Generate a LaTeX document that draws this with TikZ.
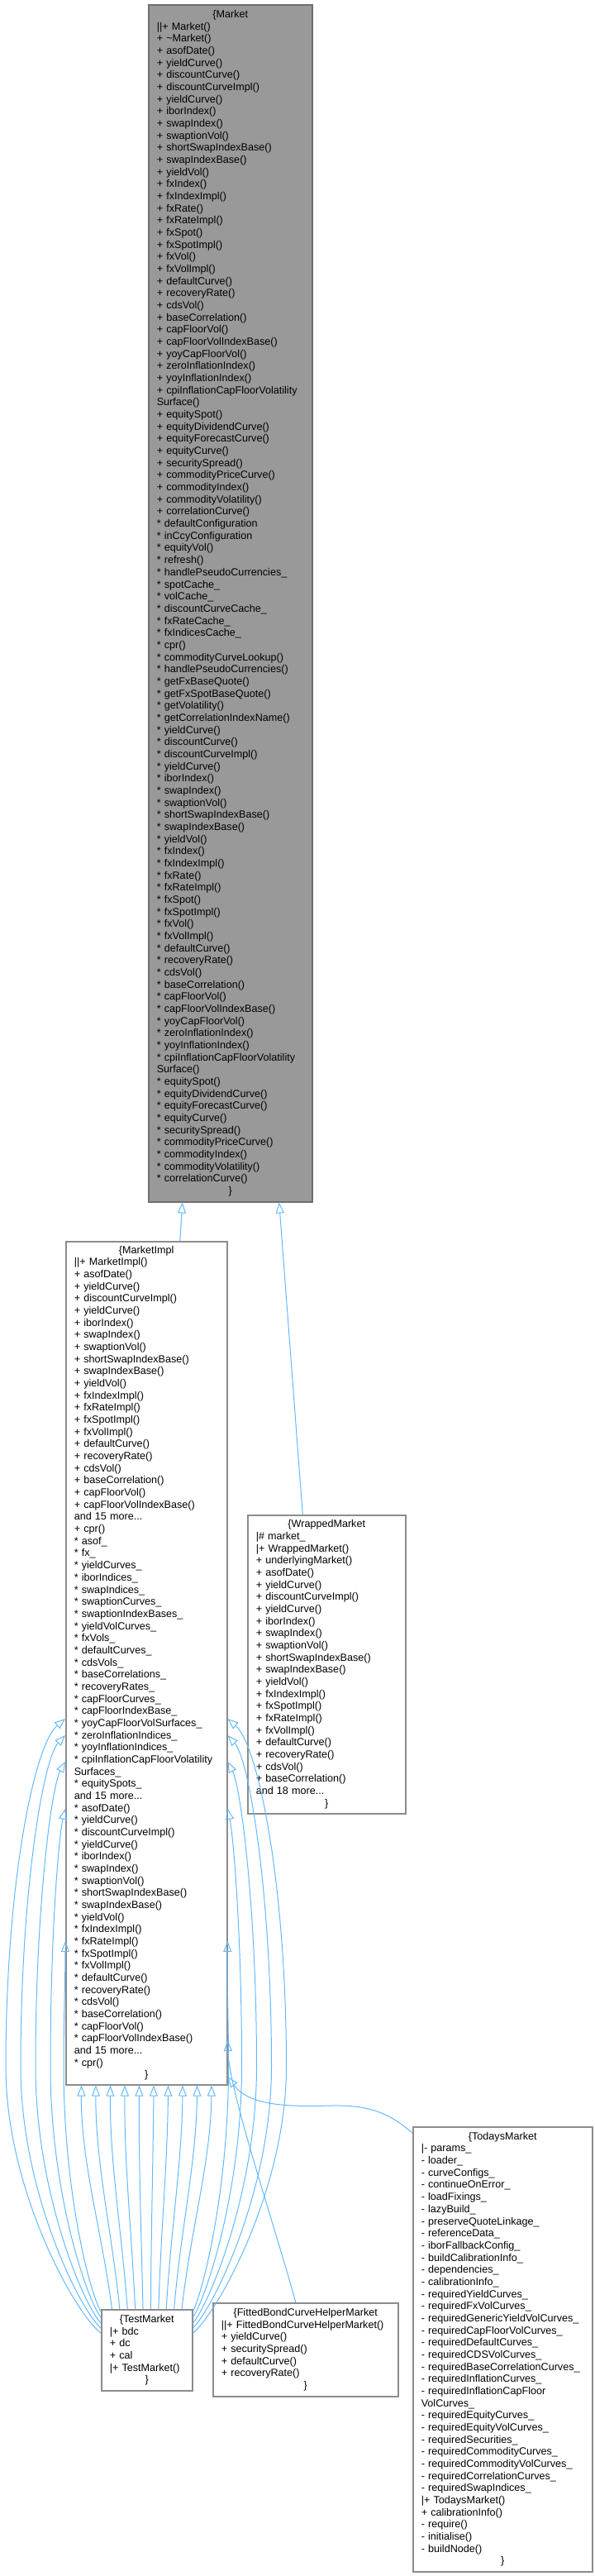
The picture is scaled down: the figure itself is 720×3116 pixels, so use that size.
\documentclass[tikz,border=0pt]{standalone}
\usepackage{fontspec}
\setmainfont{Liberation Sans}
\usetikzlibrary{arrows.meta}
\definecolor{edgeblue}{RGB}{99,184,255}
\definecolor{boxline}{RGB}{140,140,140}
\definecolor{mkline}{RGB}{110,110,110}
\definecolor{mkfill}{RGB}{153,153,153}
\newcommand\ctr[1]{\makebox[\linewidth][c]{#1}}
\newcommand\st{{*}}
\begin{document}
\begin{tikzpicture}[x=1pt,y=-1pt,
  cls/.style={draw=boxline, fill=white, line width=1.5pt, inner xsep=10pt, inner ysep=4pt,
    align=left, anchor=north west, font=\fontsize{12.6pt}{14.67pt}\selectfont},
  basecls/.style={cls, draw=mkline, fill=mkfill},
  inh/.style={draw=edgeblue, line width=1pt, -{Triangle[open,length=13pt,width=10pt]}}]
\useasboundingbox (0,0) rectangle (720,3116);

\node[basecls, text width=178pt, minimum height=1448pt] (market) at (179,5) {%
\ctr{\{Market}\\
||+ Market()\\
+ \textasciitilde Market()\\
+ asofDate()\\
+ yieldCurve()\\
+ discountCurve()\\
+ discountCurveImpl()\\
+ yieldCurve()\\
+ iborIndex()\\
+ swapIndex()\\
+ swaptionVol()\\
+ shortSwapIndexBase()\\
+ swapIndexBase()\\
+ yieldVol()\\
+ fxIndex()\\
+ fxIndexImpl()\\
+ fxRate()\\
+ fxRateImpl()\\
+ fxSpot()\\
+ fxSpotImpl()\\
+ fxVol()\\
+ fxVolImpl()\\
+ defaultCurve()\\
+ recoveryRate()\\
+ cdsVol()\\
+ baseCorrelation()\\
+ capFloorVol()\\
+ capFloorVolIndexBase()\\
+ yoyCapFloorVol()\\
+ zeroInflationIndex()\\
+ yoyInflationIndex()\\
+ cpiInflationCapFloorVolatility\\
Surface()\\
+ equitySpot()\\
+ equityDividendCurve()\\
+ equityForecastCurve()\\
+ equityCurve()\\
+ securitySpread()\\
+ commodityPriceCurve()\\
+ commodityIndex()\\
+ commodityVolatility()\\
+ correlationCurve()\\
\st{} defaultConfiguration\\
\st{} inCcyConfiguration\\
\st{} equityVol()\\
\st{} refresh()\\
\st{} handlePseudoCurrencies\_\\
\st{} spotCache\_\\
\st{} volCache\_\\
\st{} discountCurveCache\_\\
\st{} fxRateCache\_\\
\st{} fxIndicesCache\_\\
\st{} cpr()\\
\st{} commodityCurveLookup()\\
\st{} handlePseudoCurrencies()\\
\st{} getFxBaseQuote()\\
\st{} getFxSpotBaseQuote()\\
\st{} getVolatility()\\
\st{} getCorrelationIndexName()\\
\st{} yieldCurve()\\
\st{} discountCurve()\\
\st{} discountCurveImpl()\\
\st{} yieldCurve()\\
\st{} iborIndex()\\
\st{} swapIndex()\\
\st{} swaptionVol()\\
\st{} shortSwapIndexBase()\\
\st{} swapIndexBase()\\
\st{} yieldVol()\\
\st{} fxIndex()\\
\st{} fxIndexImpl()\\
\st{} fxRate()\\
\st{} fxRateImpl()\\
\st{} fxSpot()\\
\st{} fxSpotImpl()\\
\st{} fxVol()\\
\st{} fxVolImpl()\\
\st{} defaultCurve()\\
\st{} recoveryRate()\\
\st{} cdsVol()\\
\st{} baseCorrelation()\\
\st{} capFloorVol()\\
\st{} capFloorVolIndexBase()\\
\st{} yoyCapFloorVol()\\
\st{} zeroInflationIndex()\\
\st{} yoyInflationIndex()\\
\st{} cpiInflationCapFloorVolatility\\
Surface()\\
\st{} equitySpot()\\
\st{} equityDividendCurve()\\
\st{} equityForecastCurve()\\
\st{} equityCurve()\\
\st{} securitySpread()\\
\st{} commodityPriceCurve()\\
\st{} commodityIndex()\\
\st{} commodityVolatility()\\
\st{} correlationCurve()\\
\ctr{\}}};

\node[cls, text width=175pt, minimum height=1020pt] (impl) at (79,1501) {%
\ctr{\{MarketImpl}\\
||+ MarketImpl()\\
+ asofDate()\\
+ yieldCurve()\\
+ discountCurveImpl()\\
+ yieldCurve()\\
+ iborIndex()\\
+ swapIndex()\\
+ swaptionVol()\\
+ shortSwapIndexBase()\\
+ swapIndexBase()\\
+ yieldVol()\\
+ fxIndexImpl()\\
+ fxRateImpl()\\
+ fxSpotImpl()\\
+ fxVolImpl()\\
+ defaultCurve()\\
+ recoveryRate()\\
+ cdsVol()\\
+ baseCorrelation()\\
+ capFloorVol()\\
+ capFloorVolIndexBase()\\
and 15 more...\\
+ cpr()\\
\st{} asof\_\\
\st{} fx\_\\
\st{} yieldCurves\_\\
\st{} iborIndices\_\\
\st{} swapIndices\_\\
\st{} swaptionCurves\_\\
\st{} swaptionIndexBases\_\\
\st{} yieldVolCurves\_\\
\st{} fxVols\_\\
\st{} defaultCurves\_\\
\st{} cdsVols\_\\
\st{} baseCorrelations\_\\
\st{} recoveryRates\_\\
\st{} capFloorCurves\_\\
\st{} capFloorIndexBase\_\\
\st{} yoyCapFloorVolSurfaces\_\\
\st{} zeroInflationIndices\_\\
\st{} yoyInflationIndices\_\\
\st{} cpiInflationCapFloorVolatility\\
Surfaces\_\\
\st{} equitySpots\_\\
and 15 more...\\
\st{} asofDate()\\
\st{} yieldCurve()\\
\st{} discountCurveImpl()\\
\st{} yieldCurve()\\
\st{} iborIndex()\\
\st{} swapIndex()\\
\st{} swaptionVol()\\
\st{} shortSwapIndexBase()\\
\st{} swapIndexBase()\\
\st{} yieldVol()\\
\st{} fxIndexImpl()\\
\st{} fxRateImpl()\\
\st{} fxSpotImpl()\\
\st{} fxVolImpl()\\
\st{} defaultCurve()\\
\st{} recoveryRate()\\
\st{} cdsVol()\\
\st{} baseCorrelation()\\
\st{} capFloorVol()\\
\st{} capFloorVolIndexBase()\\
and 15 more...\\
\st{} cpr()\\
\ctr{\}}};

\node[cls, text width=171pt, minimum height=361pt] (wrapped) at (299,1832) {%
\ctr{\{WrappedMarket}\\
|\# market\_\\
|+ WrappedMarket()\\
+ underlyingMarket()\\
+ asofDate()\\
+ yieldCurve()\\
+ discountCurveImpl()\\
+ yieldCurve()\\
+ iborIndex()\\
+ swapIndex()\\
+ swaptionVol()\\
+ shortSwapIndexBase()\\
+ swapIndexBase()\\
+ yieldVol()\\
+ fxIndexImpl()\\
+ fxSpotImpl()\\
+ fxRateImpl()\\
+ fxVolImpl()\\
+ defaultCurve()\\
+ recoveryRate()\\
+ cdsVol()\\
+ baseCorrelation()\\
and 18 more...\\
\ctr{\}}};

\node[cls, text width=90pt, minimum height=98pt] (test) at (122,2793) {%
\ctr{\{TestMarket}\\
|+ bdc\\
+ dc\\
+ cal\\
|+ TestMarket()\\
\ctr{\}}};

\node[cls, text width=204pt, minimum height=113pt] (fitted) at (257,2785) {%
\ctr{\{FittedBondCurveHelperMarket}\\
||+ FittedBondCurveHelperMarket()\\
+ yieldCurve()\\
+ securitySpread()\\
+ defaultCurve()\\
+ recoveryRate()\\
\ctr{\}}};

\node[cls, text width=197pt, minimum height=538pt] (todays) at (499,2572) {%
\ctr{\{TodaysMarket}\\
|- params\_\\
- loader\_\\
- curveConfigs\_\\
- continueOnError\_\\
- loadFixings\_\\
- lazyBuild\_\\
- preserveQuoteLinkage\_\\
- referenceData\_\\
- iborFallbackConfig\_\\
- buildCalibrationInfo\_\\
- dependencies\_\\
- calibrationInfo\_\\
- requiredYieldCurves\_\\
- requiredFxVolCurves\_\\
- requiredGenericYieldVolCurves\_\\
- requiredCapFloorVolCurves\_\\
- requiredDefaultCurves\_\\
- requiredCDSVolCurves\_\\
- requiredBaseCorrelationCurves\_\\
- requiredInflationCurves\_\\
- requiredInflationCapFloor\\
VolCurves\_\\
- requiredEquityCurves\_\\
- requiredEquityVolCurves\_\\
- requiredSecurities\_\\
- requiredCommodityCurves\_\\
- requiredCommodityVolCurves\_\\
- requiredCorrelationCurves\_\\
- requiredSwapIndices\_\\
|+ TodaysMarket()\\
+ calibrationInfo()\\
- require()\\
- initialise()\\
- buildNode()\\
\ctr{\}}};

% inheritance edges
\draw[inh] ([xshift=40.5pt]impl.north) -- ([xshift=-58pt]market.south);
\draw[inh] ([xshift=-29pt]wrapped.north) -- ([xshift=59pt]market.south);

% TestMarket -> MarketImpl, straight fan
\foreach \i in {0,...,9}{
  \pgfmathsetmacro\xa{176.5+(\i-4.5)*17.5}
  \pgfmathsetmacro\xt{177+(\i-4.5)*9.4}
  \pgfmathsetmacro\xc{\xt+(\xa-\xt)*0.3}
  \draw[inh] ([xshift={(\i-4.5)*9.4}]test.north) .. controls (\xc,2700) and (\xa,2615) .. ([xshift={(\i-4.5)*17.5}]impl.south);
}

% TestMarket -> MarketImpl, left arcs
\foreach \E/\b/\qx/\qy/\py/\rx/\ry/\T in {29/7/92/2800/2280/41/2111/578, 23/25/96/2793/2290/52/2128/598, 17/43/100/2786/2310/62/2162/630, 10/61/104/2779/2340/71/2222/687, 3/77/108/2772/2440/79/2395/847}{
  \draw[inh] ([yshift=-\E pt]test.north west) .. controls (\qx,\qy) and (\b,2650) .. (\b,2500)
     .. controls (\b,\py) and (\rx,\ry) .. ([yshift=-\T pt]impl.north west);
}
% TestMarket -> MarketImpl, right arcs
\foreach \E/\b/\qx/\qy/\py/\rx/\ry/\T in {29/346.5/261.5/2800/2280/312.5/2111/578, 23/328.5/257.5/2793/2290/301.5/2128/598, 17/310.5/253.5/2786/2310/291.5/2162/630, 10/292.5/249.5/2779/2340/282.5/2222/687, 3/276.5/245.5/2772/2440/274.5/2395/847}{
  \draw[inh] ([yshift=-\E pt]test.north east) .. controls (\qx,\qy) and (\b,2650) .. (\b,2500)
     .. controls (\b,\py) and (\rx,\ry) .. ([yshift=-\T pt]impl.north east);
}

% FittedBondCurveHelperMarket -> MarketImpl
\draw[inh] ([xshift=-12pt]fitted.north) .. controls (335,2700) and (277,2530) .. ([yshift=-967pt]impl.north east);
% TodaysMarket -> MarketImpl
\draw[inh] ([yshift=-8pt]todays.north west) .. controls (470,2555) and (445,2546) .. (400,2547)
   .. controls (340,2549) and (300,2545) .. ([yshift=-1011pt]impl.north east);
\end{tikzpicture}
\end{document}
